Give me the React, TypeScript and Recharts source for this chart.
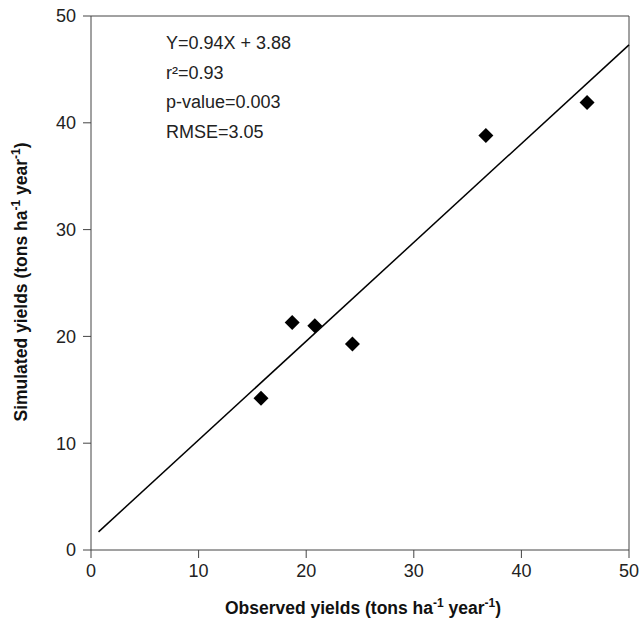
import React from 'react';
import { ComposedChart, Scatter, XAxis, YAxis, ReferenceLine, Customized } from 'recharts';

const observed = [15.8, 18.7, 20.8, 24.3, 36.7, 46.1];
const simulated = [14.2, 21.3, 21.0, 19.3, 38.8, 41.9];
const fitX = [0.7, 50];
const fitY = [1.7, 47.3];
const ticks = [0, 10, 20, 30, 40, 50];
const statLines = ['Y=0.94X + 3.88', 'r²=0.93', 'p-value=0.003', 'RMSE=3.05'];

const FONT = '"Liberation Sans", Arial, sans-serif';

const points = observed.map((x, i) => ({ x, y: simulated[i] }));

const Diamond = (props: any) => {
  const { cx, cy } = props;
  const r = 7.5;
  return <path d={`M${cx},${cy - r}L${cx + r},${cy}L${cx},${cy + r}L${cx - r},${cy}Z`} fill="#000" />;
};

const Stats = () => (
  <g>
    {statLines.map((t, i) => (
      <text key={i} x={166} y={49 + i * 29.7} fontSize={18} fontFamily={FONT} fill="#222">{t}</text>
    ))}
  </g>
);

const YTitle = () => (
  <text transform="translate(27,282) rotate(-90)" textAnchor="middle" fontSize={17.5} fontWeight="bold" fontFamily={FONT} fill="#111">
    Simulated yields (tons ha<tspan dy={-7} fontSize={12}>-1</tspan><tspan dy={7}> year</tspan><tspan dy={-7} fontSize={12}>-1</tspan><tspan dy={7}>)</tspan>
  </text>
);

const XTitle = () => (
  <text x={363} y={614} textAnchor="middle" fontSize={17.5} fontWeight="bold" fontFamily={FONT} fill="#111">
    Observed yields (tons ha<tspan dy={-7} fontSize={12}>-1</tspan><tspan dy={7}> year</tspan><tspan dy={-7} fontSize={12}>-1</tspan><tspan dy={7}>)</tspan>
  </text>
);

export default function App() {
  const tick = { fill: '#222', fontSize: 18, fontFamily: FONT };
  return (
    <div style={{ position: 'absolute', left: 0, top: 0, background: '#fff' }}>
      <ComposedChart width={641} height={622} margin={{ top: 16, right: 12, left: 31, bottom: 22 }}>
        <XAxis
          type="number"
          dataKey="x"
          domain={[0, 50]}
          ticks={ticks}
          allowDataOverflow
          tick={tick}
          tickSize={8}
          tickMargin={6}
          height={50}
          stroke="#444"
          tickLine={{ stroke: '#444' }}
        />
        <YAxis
          type="number"
          dataKey="y"
          domain={[0, 50]}
          ticks={ticks}
          allowDataOverflow
          tick={tick}
          tickSize={8}
          tickMargin={7}
          width={60}
          stroke="#444"
          tickLine={{ stroke: '#444' }}
        />
        <ReferenceLine y={50} stroke="#444" />
        <ReferenceLine x={50} stroke="#444" />
        <ReferenceLine
          segment={[{ x: fitX[0], y: fitY[0] }, { x: fitX[1], y: fitY[1] }]}
          stroke="#000"
          strokeWidth={1.5}
          ifOverflow="visible"
        />
        <Scatter data={points} shape={<Diamond />} isAnimationActive={false} />
        <Customized component={<Stats />} />
        <Customized component={<YTitle />} />
        <Customized component={<XTitle />} />
      </ComposedChart>
    </div>
  );
}
